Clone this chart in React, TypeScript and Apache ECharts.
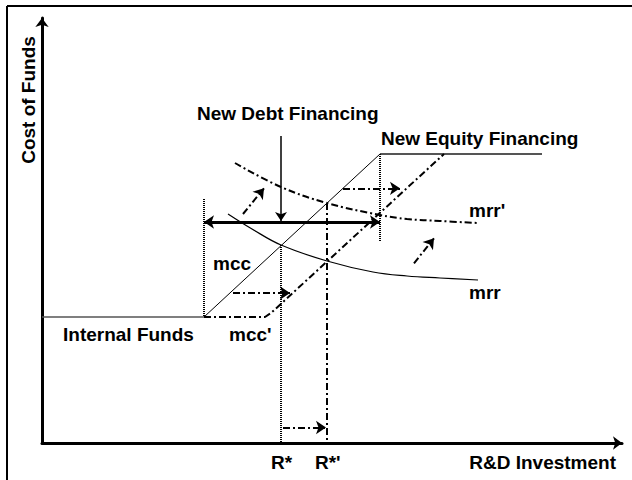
import React, { useEffect, useRef } from "react";
import * as echarts from "echarts";

// Schematic units: x = R&D investment, y = cost of funds / rate of return
const X_MAX = 580;
const Y_MAX = 425;

const INTERNAL_FUNDS: number[][] = [[0, 126], [162, 126]];
const MCC: number[][] = [[162, 126], [338, 289]];
const NEW_EQUITY: number[][] = [[338, 289], [500, 289]];
const MCC_SHIFTED: number[][] = [[162, 126], [223, 126], [229, 130], [402, 289]];
const MRR: number[][] = [[186, 229], [210, 214], [239, 198], [285, 182], [331, 171], [365, 167], [398, 165], [436, 163]];
const MRR_SHIFTED: number[][] = [[193, 280], [239, 256], [285, 240], [338, 228], [365, 224], [398, 222], [436, 220]];

const R_STAR = 239;
const R_STAR_SHIFTED = 285;

const DOTTED_GUIDES: number[][][] = [
  [[162, 244], [162, 126]],
  [[338, 289], [338, 202]],
  [[R_STAR, 198], [R_STAR, 0]],
];
const DASHDOT_GUIDES: number[][][] = [[[R_STAR_SHIFTED, 240], [R_STAR_SHIFTED, 0]]];
const DEBT_ARROW: number[][] = [[R_STAR, 307], [R_STAR, 222]];
const RANGE_ARROW: number[][] = [[162, 221], [338, 221]];
const SHIFT_ARROWS: number[][][] = [
  [[241, 15.5], [284, 15.5]],
  [[191, 150], [248, 150]],
  [[301, 254.7], [358, 254.7]],
  [[201, 229], [222, 254.7]],
  [[372, 179.7], [392, 204.7]],
];

const LABELS = {
  yAxis: "Cost of Funds",
  xAxis: "R&D Investment",
  debt: "New Debt Financing",
  equity: "New Equity Financing",
  internal: "Internal Funds",
  mcc: "mcc",
  mccShifted: "mcc'",
  mrr: "mrr",
  mrrShifted: "mrr'",
  rStar: "R*",
  rStarShifted: "R*'",
};

const FONT = 'bold 19px "Liberation Sans", Arial, sans-serif';
const DASH_DOT = [7, 3, 2, 3];

function txt(text: string, x: number, y: number, extra: any = {}) {
  return {
    type: "text",
    x,
    y,
    ...extra,
    style: {
      text,
      font: FONT,
      fill: "#000",
      align: extra.align || "left",
      verticalAlign: "middle",
    },
  };
}

export default function App() {
  const ref = useRef<HTMLDivElement>(null);

  useEffect(() => {
    if (!ref.current) return;
    const chart = echarts.init(ref.current, null, { renderer: "svg" });

    const axisCommon = {
      type: "value" as const,
      min: 0,
      splitLine: { show: false },
      axisTick: { show: false },
      axisLabel: { show: false },
      axisLine: {
        show: true,
        onZero: false,
        symbol: ["none", "arrow"],
        symbolSize: [10, 9],
        lineStyle: { color: "#000", width: 3 },
      },
    };

    const lineSeries = (data: number[][], color: string, width: number, type: any = "solid", smooth: any = false) => ({
      type: "line",
      data,
      showSymbol: false,
      symbol: "none",
      smooth,
      lineStyle: { color, width, type },
      silent: true,
      z: 3,
    });

    const linesSeries = (segs: number[][][], width: number, type: any, symbol: any, size = 10) => ({
      type: "lines",
      coordinateSystem: "cartesian2d",
      data: segs.map((c) => ({ coords: c })),
      symbol,
      symbolSize: size,
      lineStyle: { color: "#000", width, type, opacity: 1 },
      silent: true,
      z: 4,
    });

    chart.setOption({
      animation: false,
      backgroundColor: "#fff",
      grid: { left: 42, top: 18, width: 580, height: 425, containLabel: false },
      xAxis: { ...axisCommon, max: X_MAX },
      yAxis: { ...axisCommon, max: Y_MAX },
      series: [
        lineSeries(INTERNAL_FUNDS, "#555", 1.5),
        lineSeries(MCC, "#000", 1),
        lineSeries(NEW_EQUITY, "#555", 2),
        lineSeries(MCC_SHIFTED, "#000", 2, DASH_DOT),
        lineSeries(MRR, "#000", 1.2, "solid", 0.4),
        lineSeries(MRR_SHIFTED, "#000", 2, DASH_DOT, 0.4),
        linesSeries(DOTTED_GUIDES, 2, [1, 1], ["none", "none"]),
        linesSeries(DASHDOT_GUIDES, 2, DASH_DOT, ["none", "none"]),
        linesSeries([DEBT_ARROW], 1.5, "solid", ["none", "arrow"], 9),
        linesSeries([RANGE_ARROW], 3, "solid", ["arrow", "arrow"], 10),
        linesSeries(SHIFT_ARROWS, 2, DASH_DOT, ["none", "arrow"], 10),
      ],
      graphic: [
        { type: "line", shape: { x1: 7, y1: 6, x2: 632, y2: 6 }, style: { stroke: "#000", lineWidth: 2 } },
        { type: "line", shape: { x1: 7, y1: 6, x2: 7, y2: 480 }, style: { stroke: "#000", lineWidth: 2 } },
        txt(LABELS.yAxis, 28, 100, { rotation: Math.PI / 2, align: "center" }),
        txt(LABELS.debt, 197, 113),
        txt(LABELS.equity, 381, 138),
        txt(LABELS.mrrShifted, 469, 210),
        txt(LABELS.mrr, 469, 292),
        txt(LABELS.mcc, 213, 263),
        txt(LABELS.mccShifted, 229, 334),
        txt(LABELS.internal, 63, 334),
        txt(LABELS.rStar, 271, 462),
        txt(LABELS.rStarShifted, 315, 462),
        txt(LABELS.xAxis, 616, 462, { align: "right" }),
      ],
    });

    return () => chart.dispose();
  }, []);

  return (
    <div
      ref={ref}
      style={{ position: "fixed", left: 0, top: 0, width: 632, height: 480, background: "#fff" }}
    />
  );
}
